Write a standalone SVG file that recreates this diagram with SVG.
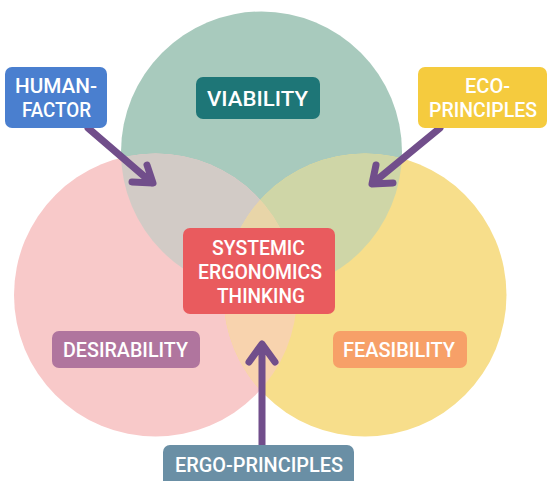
<svg xmlns="http://www.w3.org/2000/svg" width="548" height="481" viewBox="0 0 548 481">
<style>
.lbl{font-family:"Liberation Sans Narrow","Roboto","Liberation Sans",sans-serif;font-weight:500;font-size:21px;fill:#ffffff;text-anchor:middle}
.arr{fill:none;stroke:#714e8b;stroke-width:7;stroke-linecap:round;stroke-linejoin:round}
</style>
<defs>
<clipPath id="cG"><circle cx="261.5" cy="152" r="140.5"/></clipPath>
<clipPath id="cP"><circle cx="155.5" cy="295" r="141.5"/></clipPath>
<clipPath id="cY"><circle cx="365" cy="295" r="141.5"/></clipPath>
</defs>
<rect width="548" height="481" fill="#ffffff"/>
<g id="venn">
<circle cx="261.5" cy="152" r="140.5" fill="#a8cabd"/>
<circle cx="155.5" cy="295" r="141.5" fill="#f8c9c9"/>
<circle cx="365" cy="295" r="141.5" fill="#f7de8b"/>
<circle cx="261.5" cy="152" r="140.5" fill="#d2cbc6" clip-path="url(#cP)"/>
<circle cx="261.5" cy="152" r="140.5" fill="#cfd6a7" clip-path="url(#cY)"/>
<circle cx="155.5" cy="295" r="141.5" fill="#f8d3ae" clip-path="url(#cY)"/>
<g clip-path="url(#cG)"><circle cx="155.5" cy="295" r="141.5" fill="#e8d5a8" clip-path="url(#cY)"/></g>
</g>
<g id="connectors">
<path class="arr" d="M88,128 L152,183 M147,165 L153,183 L132,182"/>
<path class="arr" d="M440,128 L373,183 M376,165 L372,184 L393,183"/>
<path class="arr" d="M262,445 L262,345 M249,362 L262,344 L275,362"/>
</g>
<g id="human-factor">
<rect x="5" y="67" width="102" height="61" rx="7" fill="#4a7fcf"/>
<text class="lbl" x="56" y="93" textLength="82" lengthAdjust="spacingAndGlyphs">HUMAN-</text>
<text class="lbl" x="56.5" y="117" textLength="69" lengthAdjust="spacingAndGlyphs">FACTOR</text>
</g>
<g id="eco-principles">
<rect x="418" y="67" width="129" height="61" rx="7" fill="#f5cb3e"/>
<text class="lbl" x="487.5" y="93" textLength="45" lengthAdjust="spacingAndGlyphs">ECO-</text>
<text class="lbl" x="483" y="117" textLength="108" lengthAdjust="spacingAndGlyphs">PRINCIPLES</text>
</g>
<g id="viability">
<rect x="196" y="77" width="124" height="42" rx="7" fill="#1e7677"/>
<text class="lbl" x="257.5" y="106" font-size="23" textLength="101" lengthAdjust="spacingAndGlyphs">VIABILITY</text>
</g>
<g id="systemic">
<rect x="183" y="228" width="152" height="86" rx="7" fill="#e95b5e"/>
<text class="lbl" x="258.5" y="255" textLength="93" lengthAdjust="spacingAndGlyphs">SYSTEMIC</text>
<text class="lbl" x="260" y="279" textLength="124" lengthAdjust="spacingAndGlyphs">ERGONOMICS</text>
<text class="lbl" x="261" y="303" textLength="88" lengthAdjust="spacingAndGlyphs">THINKING</text>
</g>
<g id="desirability">
<rect x="52" y="331" width="148" height="37" rx="7" fill="#b0759e"/>
<text class="lbl" x="125.5" y="357" font-size="22" textLength="125" lengthAdjust="spacingAndGlyphs">DESIRABILITY</text>
</g>
<g id="feasibility">
<rect x="333" y="331" width="134" height="37" rx="7" fill="#f7a068"/>
<text class="lbl" x="399" y="357" font-size="22" textLength="112" lengthAdjust="spacingAndGlyphs">FEASIBILITY</text>
</g>
<g id="ergo-principles">
<rect x="163" y="445" width="191" height="44" rx="7" fill="#6a8fa5"/>
<text class="lbl" x="259" y="472" font-size="22" textLength="168" lengthAdjust="spacingAndGlyphs">ERGO-PRINCIPLES</text>
</g>
</svg>
